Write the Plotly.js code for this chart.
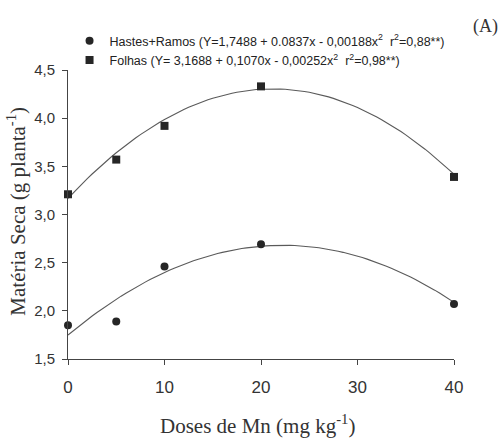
<!DOCTYPE html>
<html>
<head>
<meta charset="utf-8">
<script src="https://cdn.plot.ly/plotly-3.0.1.min.js"></script>
<style>html,body{margin:0;padding:0;background:#fff;}#chart{width:498px;height:438px;}</style>
</head>
<body>
<div id="chart"></div>
<script>
// Observed data
const doses = [0, 5, 10, 20, 40];
const hastesRamos = [1.85, 1.89, 2.46, 2.69, 2.07];
const folhas = [3.21, 3.57, 3.92, 4.33, 3.39];
// Regression coefficients as printed in the legend: [a, b, c] for Y = a + b x + c x^2
const coefHastes = [1.7488, 0.0837, -0.00188];
const coefFolhas = [3.1688, 0.1070, -0.00252];
const xTicks = [0, 10, 20, 30, 40];
const yTicks = [1.5, 2.0, 2.5, 3.0, 3.5, 4.0, 4.5];
const nameHastes = 'Hastes+Ramos (Y=1,7488 + 0.0837x - 0,00188x<sup>2</sup>  r<sup>2</sup>=0,88**)';
const nameFolhas = 'Folhas (Y= 3,1688 + 0,1070x - 0,00252x<sup>2</sup>  r<sup>2</sup>=0,98**)';

const fitX = [];
for (let x = 0; x <= 40; x += 0.5) fitX.push(x);
const fitY = c => fitX.map(x => c[0] + c[1]*x + c[2]*x*x);

const markerColor = '#262626';
const lineColor = '#5a5a5a';

const traces = [
  {x: fitX, y: fitY(coefHastes), mode: 'lines', line: {color: lineColor, width: 1.1}, showlegend: false, hoverinfo: 'skip'},
  {x: fitX, y: fitY(coefFolhas), mode: 'lines', line: {color: lineColor, width: 1.1}, showlegend: false, hoverinfo: 'skip'},
  {x: doses, y: hastesRamos, mode: 'markers', name: nameHastes, marker: {symbol: 'circle', size: 8, color: markerColor}, cliponaxis: false},
  {x: doses, y: folhas, mode: 'markers', name: nameFolhas, marker: {symbol: 'square', size: 8, color: markerColor}, cliponaxis: false}
];

const layout = {
  width: 498, height: 438,
  margin: {l: 68, r: 44, t: 70, b: 79},
  paper_bgcolor: '#ffffff', plot_bgcolor: '#ffffff',
  separators: ',.',
  showlegend: true,
  legend: {x: 0.004, y: 1.152, xanchor: 'left', yanchor: 'top', bgcolor: 'rgba(0,0,0,0)',
           font: {family: 'Liberation Sans, Arial, sans-serif', size: 12.5, color: '#222'}, tracegroupgap: 0},
  xaxis: {
    range: [0, 40], tickvals: xTicks, ticktext: xTicks.map(String),
    showgrid: false, zeroline: false, showline: true, linecolor: '#444', linewidth: 1,
    ticks: 'outside', ticklen: 5, tickcolor: '#444', ticklabelstandoff: 8,
    tickfont: {family: 'Liberation Sans, Arial, sans-serif', size: 17, color: '#333'}
  },
  yaxis: {
    range: [1.5, 4.5], tickvals: yTicks, tickformat: '.1f',
    showgrid: false, zeroline: false, showline: true, linecolor: '#444', linewidth: 1,
    ticks: 'outside', ticklen: 5, tickcolor: '#444', ticklabelstandoff: 4,
    tickfont: {family: 'Liberation Sans, Arial, sans-serif', size: 15, color: '#333'}
  },
  annotations: [
    {text: 'Doses de Mn (mg kg<sup>-1</sup>)', xref: 'paper', yref: 'paper', x: 0.49, y: -0.225, xanchor: 'center', yanchor: 'middle', showarrow: false,
     font: {family: 'Liberation Serif, Times New Roman, serif', size: 21, color: '#333'}},
    {text: 'Matéria Seca (g planta<sup>-1</sup>)', xref: 'paper', yref: 'paper', x: -0.132, y: 0.51, xanchor: 'center', yanchor: 'middle', textangle: -90, showarrow: false,
     font: {family: 'Liberation Serif, Times New Roman, serif', size: 21, color: '#333'}},
    {text: '(A)', xref: 'paper', yref: 'paper', x: 1.118, y: 1.15, xanchor: 'right', yanchor: 'middle', showarrow: false,
     font: {family: 'Liberation Serif, Times New Roman, serif', size: 18, color: '#333'}}
  ]
};

Plotly.newPlot('chart', traces, layout, {displayModeBar: false, staticPlot: true});
</script>
</body>
</html>
